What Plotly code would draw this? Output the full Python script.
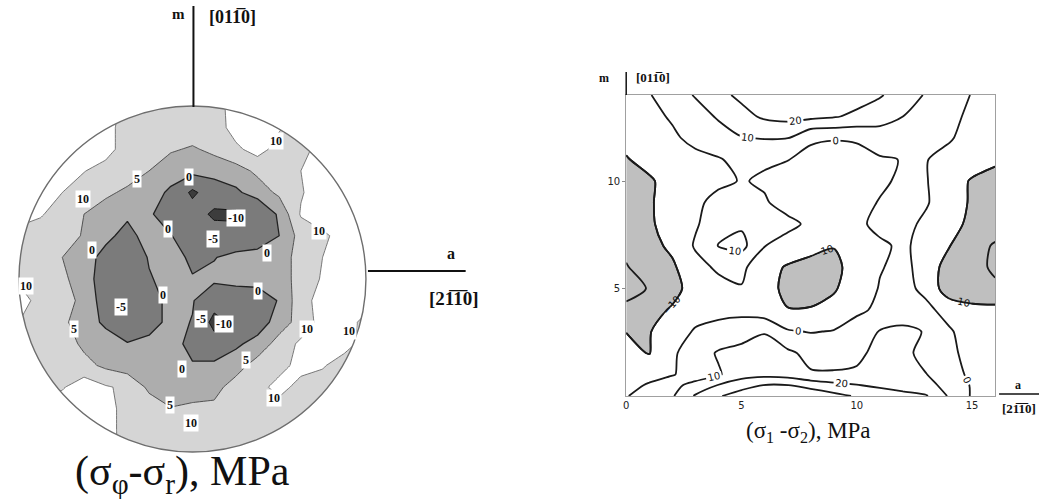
import numpy as np
import plotly.graph_objects as go

# ---------------- left panel: (sigma_phi - sigma_r) over the disc ----------------
disc_u = [-1.0, -0.875, -0.75, -0.625, -0.5, -0.375, -0.25, -0.125, 0.0,
          0.125, 0.25, 0.375, 0.5, 0.625, 0.75, 0.875, 1.0]
disc_v = [-1.0, -0.875, -0.75, -0.625, -0.5, -0.375, -0.25, -0.125, 0.0,
          0.125, 0.25, 0.375, 0.5, 0.625, 0.75, 0.875, 1.0]
# stress difference, MPa; rows run from v=-1 (bottom) to v=+1 (top)
disc_stress = [
    [13, 13, 13, 13, 13, 7.5, 7.5, 7.5, 7.5, 7.5, 7.5, 7.5, 7.5, 7.5, 7.5, 7.5, 7.5],
    [13, 13, 13, 13, 12, 8, 7.5, 7.5, 7.5, 7.5, 7.5, 7.5, 7.5, 7.5, 7.5, 7.5, 7.5],
    [9, 12, 13, 13, 12, 8, 7.5, 5.2, 6, 6, 7.5, 7.5, 7.5, 7.5, 7.5, 7.5, 7.5],
    [7.5, 8, 9.5, 13, 10.5, 9, 4, 2.5, 2.5, 3.5, 7, 8, 12, 8, 7.5, 7.5, 7.5],
    [7.5, 7.5, 7.5, 6.5, 4, 2.5, 2.5, 1, 0.5, 1.5, 3, 7, 8, 12, 10.5, 7.5, 7.5],
    [7.5, 7.5, 7.5, 4, 2.5, 0.3, 2, 2.5, -2, -6, -1, 2, 7, 11, 13, 12, 8],
    [10, 7.5, 6, 2.5, -1, -4, -3, 2, -0.3, -13, -8, -3, 2.5, 7, 12, 13, 8],
    [13, 7.5, 6.5, 4, -3, -5, -3, 2, 0.5, -6, -5, -4, 0.5, 8, 12, 13, 13],
    [9, 7.5, 6, 2.5, -3, -5, -0.5, 2, 0.3, 1.5, 2.5, 2.5, 2.5, 7, 10.5, 13, 13],
    [7.5, 7.5, 5, 2.5, -2, -5, 0.5, 2, -1, -0.3, 2, 2.5, 2.5, 7, 10, 13, 13],
    [7.5, 7.5, 7.5, 4.5, 1.5, -2, 2.5, 0.3, -4, -5, -6, -4, 0, 7, 9, 12, 13],
    [13, 10.5, 7.5, 5, 2.5, 1, 1, -4, -5, -12, -12, -6, 1, 10.5, 13, 13, 13],
    [13, 13, 10, 7.5, 6, 4, 2.5, -1, -12, -4, -1, 2.5, 6, 9.5, 13, 13, 13],
    [13, 13, 13, 10.2, 8, 7.5, 5, 2.5, 2.5, 2.5, 3, 6, 7.5, 10, 13, 13, 13],
    [13, 13, 13, 13, 12, 7.5, 7, 5.5, 4.5, 6, 9, 12, 8, 7.5, 13, 13, 13],
    [13, 13, 13, 13, 12, 7.5, 7.5, 7.5, 7.5, 7.5, 12, 13, 10.5, 7.5, 8, 12, 13],
    [13, 13, 13, 13, 13, 8, 7.5, 7.5, 7.5, 8, 12, 13, 13, 12, 8, 8, 13],
]
# shaded bands: each level shades everything below it
disc_levels = [10, 5, 0, -10]
disc_fills = ["#d5d5d5", "#adadad", "#7b7b7b", "#3c3c3c"]
disc_line_colors = ["#5a5a5a", "#444444", "#222222", "#111111"]
disc_line_widths = [0.8, 0.9, 1.3, 1.0]

# contour labels written on the disc
disc_label_text = ["10", "10", "10", "10", "10", "10", "10", "10",
                   "5", "5", "5", "5",
                   "0", "0", "0", "0", "0", "0", "0",
                   "-5", "-5", "-5", "-10", "-10"]
disc_label_u = [0.48, -0.63, 0.73, 0.66, 0.9, 0.47, -0.96, -0.01,
                -0.32, -0.68, -0.13, 0.31,
                -0.02, -0.14, -0.58, 0.43, -0.17, 0.38, -0.06,
                0.12, -0.41, 0.05, 0.25, 0.18]
disc_label_v = [0.8, 0.46, 0.28, -0.29, -0.3, -0.69, -0.04, -0.83,
                0.58, -0.29, -0.73, -0.47,
                0.59, 0.29, 0.17, 0.15, -0.09, -0.07, -0.52,
                0.23, -0.16, -0.23, 0.35, -0.26]

# ---------------- right panel: (sigma_1 - sigma_2) map ----------------
map_x = [0, 1, 2, 3, 4, 5, 6, 7, 8, 9, 10, 11, 12, 13, 14, 15, 16]
map_y = [0, 0.5, 1, 2, 3, 4, 5, 6, 7, 8, 9, 10, 11, 12, 13, 14]
map_stress = [
    [-0.5, 4, 9, 21, 29, 35, 38, 38, 36, 33, 29, 26, 23, 21, 9, -1, -3],
    [-3, 1, 7.5, 13, 20.5, 26, 30.5, 30.2, 27, 23, 20.5, 18, 16, 12.5, 7.5, -1, -3],
    [-5, -3, -0.8, 5, 9, 16, 17, 16, 11, 11, 11, 14, 13, 10.3, 4, -2, -4],
    [-7, -10.5, -1.5, 5, 11, 13, 13.5, 12, 7, 6, 8.5, 12, 12.5, 7, 2, -3, -5],
    [-10.2, -10.5, -5, 1, 3, 6, 9.5, 1, -0.5, 0.5, 5, 10.5, 12, 9.5, 1, -4, -6],
    [-18, -13, -9, -4, -2.5, -3, -6, -9.7, -9.5, -7, -2, 2, 5, 2, -3, -7, -7],
    [-23, -19.5, -13, -6, -3, -0.5, -7, -12, -13, -11, -5, 0.5, 2.5, -2, -16, -17, -19],
    [-20.5, -16, -11.5, -3, 1.5, 2, -6, -11, -13, -13, -5, -0.5, 2, -3, -15, -18, -21],
    [-18, -13, -8, 1, 10.5, 13, 0.3, -3, -7, -9.5, -5, -1.5, 1.5, -3, -9.5, -16, -21],
    [-16, -11, -7, -1, 5, 8.5, 4, 2, -1.5, -5, -2, 2.5, 3, -2, -7, -12, -15],
    [-17, -11, -6, -2, 3, 4, 0.8, -3, -5, -5, -3, 0.5, 3, 1, -6, -11, -14],
    [-14, -11, -7, -4, -2, 0.5, -1, -3, -4, -4, -3, -1.5, 1.5, 0.5, -5, -11, -14],
    [-10.5, -7.5, -5, -2.5, -0.8, 3, 1, 0.2, -2, -3.5, -3, -1, 0.3, 0.3, -2.5, -5, -8],
    [-8, -5, -1.5, 2.5, 6, 9.5, 10.5, 10.2, 1, 0.5, 1, 5, 6, 4, 0.8, -3, -6],
    [-6, -2.5, 1, 6, 11, 17, 21.5, 23, 22.5, 20.8, 18, 14, 10, 7, 2.5, -2, -5],
    [-4, -0.6, 5.5, 10.7, 17.5, 22, 25, 27, 27, 26, 24, 21, 15, 9.2, 4, -0.4, -4],
]
map_xticks = [0, 5, 10, 15]
map_yticks = [5, 10]

W, H = 1039, 499
SERIF = "Liberation Serif, Times New Roman, serif"


def px_x(p):
    return p / W


def px_y(p):
    return 1 - p / H


fig = go.Figure()

# --- disc: stacked shaded bands (constraint contours shade the "invalid" side) ---
for lvl, col, lc, lw in zip(disc_levels, disc_fills, disc_line_colors, disc_line_widths):
    fig.add_trace(go.Contour(
        x=disc_u, y=disc_v, z=disc_stress,
        contours=dict(type="constraint", operation=">", value=lvl),
        fillcolor=col,
        line=dict(color=lc, width=lw, smoothing=0),
        showscale=False, hoverinfo="skip",
        xaxis="x", yaxis="y",
    ))

# --- map: grey area below -10, then labelled isolines ---
fig.add_trace(go.Contour(
    x=map_x, y=map_y, z=map_stress,
    contours=dict(type="constraint", operation=">", value=-10),
    fillcolor="#bfbfbf",
    line=dict(color="#1a1a1a", width=1.8, smoothing=0.8),
    showscale=False, hoverinfo="skip",
    xaxis="x2", yaxis="y2",
))
fig.add_trace(go.Contour(
    x=map_x, y=map_y, z=map_stress,
    contours=dict(start=-20, end=20, size=10, coloring="lines",
                  showlabels=True,
                  labelfont=dict(size=10, color="#111111", family="DejaVu Sans")),
    colorscale=[[0, "#1a1a1a"], [1, "#1a1a1a"]],
    line=dict(width=1.8, smoothing=0.8),
    showscale=False, hoverinfo="skip",
    xaxis="x2", yaxis="y2",
))
fig.add_trace(go.Contour(
    x=map_x, y=map_y, z=map_stress,
    contours=dict(start=30, end=30, size=10, coloring="lines", showlabels=False),
    colorscale=[[0, "#1a1a1a"], [1, "#1a1a1a"]],
    line=dict(width=1.8, smoothing=0.8),
    showscale=False, hoverinfo="skip",
    xaxis="x2", yaxis="y2",
))

# --- white mask outside the disc ---
R = 1.03
theta = np.linspace(0, 2 * np.pi, 241)
ring = " L ".join(f"{np.cos(t):.5f},{np.sin(t):.5f}" for t in theta)
mask_path = (f"M {-R},{-R} L {R},{-R} L {R},{R} L {-R},{R} Z "
             f"M {ring} Z")

shapes = [
    dict(type="path", path=mask_path, xref="x", yref="y", fillcolor="white",
         fillrule="evenodd", line=dict(width=0), layer="above"),
    dict(type="circle", x0=-1, x1=1, y0=-1, y1=1, xref="x", yref="y",
         line=dict(color="#6e6e6e", width=1.4), layer="above"),
    # crystal axes of the disc
    dict(type="line", xref="paper", yref="paper", x0=px_x(191), x1=px_x(191),
         y0=px_y(6), y1=px_y(107), line=dict(color="#111", width=2)),
    dict(type="line", xref="paper", yref="paper", x0=px_x(366), x1=px_x(464),
         y0=px_y(271), y1=px_y(271), line=dict(color="#111", width=2)),
    # crystal axes of the map
    dict(type="line", xref="paper", yref="paper", x0=px_x(625), x1=px_x(625),
         y0=px_y(72), y1=px_y(95), line=dict(color="#111", width=1.5)),
    dict(type="line", xref="paper", yref="paper", x0=px_x(999), x1=px_x(1039),
         y0=px_y(394), y1=px_y(394), line=dict(color="#111", width=1.5)),
]

annotations = []
for t, u, v in zip(disc_label_text, disc_label_u, disc_label_v):
    annotations.append(dict(
        x=u, y=v, xref="x", yref="y", text=f"<b>{t}</b>", showarrow=False,
        font=dict(family=SERIF, size=12, color="#111"),
        bgcolor="white", borderpad=1))


def txt(s, x, y, size, bold=True, anchor="center"):
    annotations.append(dict(
        x=px_x(x), y=px_y(y), xref="paper", yref="paper",
        text=f"<b>{s}</b>" if bold else s, showarrow=False,
        xanchor=anchor, yanchor="middle",
        font=dict(family=SERIF, size=size, color="#111")))


bar = "\u0305"
txt("m", 176, 14, 15)
txt(f"[011{bar}0]", 230, 17, 18)
txt("a", 449, 254, 16)
txt(f"[21{bar}1{bar}0]", 452, 298, 19)
txt("(σ<sub>φ</sub>-σ<sub>r</sub>), MPa", 180, 474, 42, bold=False)

txt("m", 603, 78, 12)
txt(f"[011{bar}0]", 652, 77, 13)
txt("a", 1018, 385, 12)
txt(f"[21{bar}1{bar}0]", 1019, 408, 13)
txt("(σ<sub>1</sub> -σ<sub>2</sub>), MPa", 808, 432, 23, bold=False)

fig.update_layout(
    width=W, height=H, autosize=False,
    margin=dict(l=0, r=0, t=0, b=0),
    paper_bgcolor="white", plot_bgcolor="white",
    showlegend=False,
    shapes=shapes, annotations=annotations,
    xaxis=dict(domain=[px_x(190 - 174 * R), px_x(190 + 174 * R)], range=[-R, R],
               visible=False, fixedrange=True),
    yaxis=dict(domain=[px_y(279 + 173 * R), px_y(279 - 173 * R)], range=[-R, R],
               visible=False, fixedrange=True),
    xaxis2=dict(domain=[px_x(625), px_x(995)], range=[0, 16], anchor="y2",
                tickvals=map_xticks, ticks="", showgrid=False, zeroline=False,
                showline=True, mirror=True, linecolor="#a0a0a0", linewidth=1,
                tickfont=dict(size=10, color="#222222", family="DejaVu Sans"),
                fixedrange=True),
    yaxis2=dict(domain=[px_y(396), px_y(95)], range=[0, 14], anchor="x2",
                tickvals=map_yticks, ticks="outside", ticklen=3, tickcolor="#888",
                showgrid=False, zeroline=False,
                showline=True, mirror=True, linecolor="#a0a0a0", linewidth=1,
                tickfont=dict(size=10, color="#222222", family="DejaVu Sans"),
                fixedrange=True),
)

fig.write_html("out.html")
